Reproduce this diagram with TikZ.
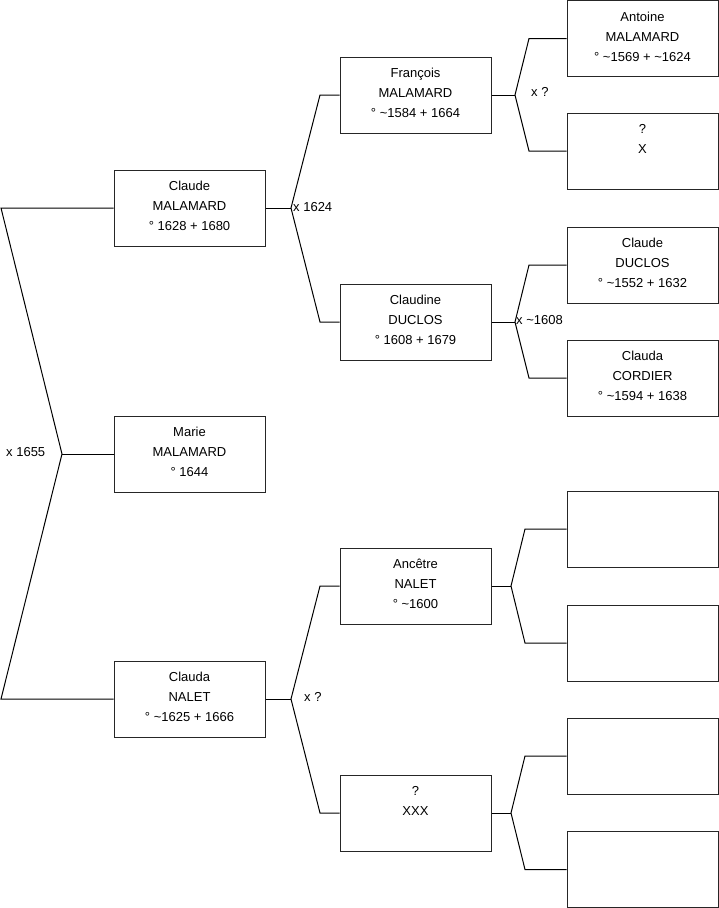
\documentclass[tikz,border=0pt]{standalone}
\usepackage{fontspec}
\setmainfont{Liberation Sans}
\begin{document}
\begin{tikzpicture}[x=1pt,y=-1pt,
  pbox/.style={draw=black!85,line width=1pt,minimum width=151pt,minimum height=76pt,
    inner sep=0pt,align=center,font=\fontsize{13}{20}\selectfont,fill=white,text depth=4pt},
  link/.style={draw=black,line width=1pt},
  lbl/.style={font=\fontsize{13}{20}\selectfont,inner sep=0pt}]
\useasboundingbox (0,0) rectangle (719,908);
% boxes
\node[pbox] (cm) at (189.5,208) {Claude\\MALAMARD\\° 1628 + 1680};
\node[pbox] (mm) at (189.5,454) {Marie\\MALAMARD\\° 1644};
\node[pbox] (cn) at (189.5,699) {Clauda\\NALET\\° \textasciitilde1625 + 1666};
\node[pbox] (fm) at (415.5,95) {François\\MALAMARD\\° \textasciitilde1584 + 1664};
\node[pbox] (cd) at (415.5,322) {Claudine\\DUCLOS\\° 1608 + 1679};
\node[pbox] (an) at (415.5,586) {Ancêtre\\NALET\\° \textasciitilde1600};
\node[pbox] (xx) at (415.5,813) {?\\XXX\\\strut};
\node[pbox] (am) at (642.5,38.5) {Antoine\\MALAMARD\\° \textasciitilde1569 + \textasciitilde1624};
\node[pbox] (xq) at (642.5,151) {?\\X\\\strut};
\node[pbox] (cdu) at (642.5,265) {Claude\\DUCLOS\\° \textasciitilde1552 + 1632};
\node[pbox] (cc) at (642.5,378) {Clauda\\CORDIER\\° \textasciitilde1594 + 1638};
\node[pbox] (e1) at (642.5,529) {};
\node[pbox] (e2) at (642.5,643) {};
\node[pbox] (e3) at (642.5,756) {};
\node[pbox] (e4) at (642.5,869.5) {};
% root bracket
\coordinate (rt) at (1,208);
\coordinate (rj) at (62,454);
\coordinate (rb) at (1,699);
\draw[link] (cm.west) -- (rt) -- (rj) -- (rb) -- (cn.west);
\draw[link] (rj) -- (mm.west);
\node[lbl,anchor=west] (l0) at (6,452) {x 1655};
% Claude MALAMARD parents
\coordinate (j1) at (291,208);
\coordinate (j1a) at (320,95);
\coordinate (j1b) at (320,322);
\draw[link] (cm.east) -- (j1);
\draw[link] (fm.west) -- (j1a) -- (j1) -- (j1b) -- (cd.west);
\node[lbl,anchor=west] (l1) at (293,207) {x 1624};
% Clauda NALET parents
\coordinate (j2) at (291,699);
\coordinate (j2a) at (320,586);
\coordinate (j2b) at (320,813);
\draw[link] (cn.east) -- (j2);
\draw[link] (an.west) -- (j2a) -- (j2) -- (j2b) -- (xx.west);
\node[lbl,anchor=west] (l2) at (304,697) {x ?};
% François parents
\coordinate (j3) at (515,95);
\coordinate (j3a) at (529,38.5);
\coordinate (j3b) at (529,151);
\draw[link] (fm.east) -- (j3);
\draw[link] (am.west) -- (j3a) -- (j3) -- (j3b) -- (xq.west);
\node[lbl,anchor=west] (l3) at (531,92) {x ?};
% Claudine parents
\coordinate (j4) at (515,322);
\coordinate (j4a) at (529,265);
\coordinate (j4b) at (529,378);
\draw[link] (cd.east) -- (j4);
\draw[link] (cdu.west) -- (j4a) -- (j4) -- (j4b) -- (cc.west);
\node[lbl,anchor=west] (l4) at (516,320) {x \textasciitilde1608};
% Ancêtre parents
\coordinate (j5) at (511,586);
\coordinate (j5a) at (525,529);
\coordinate (j5b) at (525,643);
\draw[link] (an.east) -- (j5);
\draw[link] (e1.west) -- (j5a) -- (j5) -- (j5b) -- (e2.west);
% XXX parents
\coordinate (j6) at (511,813);
\coordinate (j6a) at (525,756);
\coordinate (j6b) at (525,869.5);
\draw[link] (xx.east) -- (j6);
\draw[link] (e3.west) -- (j6a) -- (j6) -- (j6b) -- (e4.west);
\end{tikzpicture}
\end{document}
